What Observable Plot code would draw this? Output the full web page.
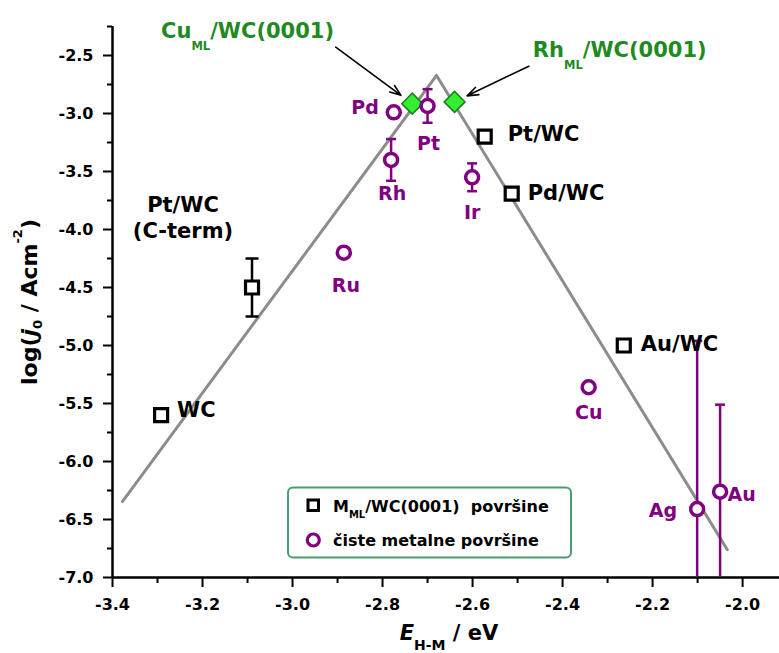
<!DOCTYPE html>
<html><head><meta charset="utf-8">
<script src="https://cdn.jsdelivr.net/npm/d3@7"></script>
<script src="https://cdn.jsdelivr.net/npm/@observablehq/plot@0.6"></script>
<style>
html,body{margin:0;padding:0;background:#fff;}
#chart{width:779px;height:653px;position:relative;overflow:hidden;background:#fff;}
</style></head><body><div id="chart"></div>
<script>
// ---------- DATA ----------
// M_ML/WC(0001) surfaces (black squares)
const mlNames  = ["WC", "Pt/WC (C-term)", "Pt/WC", "Pd/WC", "Au/WC"];
const mlE      = [-3.292, -3.090, -2.573, -2.513, -2.264];
const mlLogJ   = [-5.60, -4.50, -3.20, -3.69, -5.00];
const mlErr    = [0, 0.25, 0, 0, 0];

// pure metal surfaces (purple circles)
const metalNames = ["Pd", "Pt", "Rh", "Ir", "Ru", "Cu", "Ag", "Au"];
const metalE     = [-2.775, -2.700, -2.781, -2.601, -2.886, -2.342, -2.101, -2.050];
const metalLogJ  = [-2.99, -2.935, -3.40, -3.55, -4.20, -5.36, -6.41, -6.26];
const metalErr   = [0, 0.145, 0.18, 0.12, 0, 0, 1.45, 0.75];

// monolayer systems (green diamonds)
const monoNames = ["Cu_{ML}/WC(0001)", "Rh_{ML}/WC(0001)"];
const monoE     = [-2.734, -2.640];
const monoLogJ  = [-2.915, -2.90];
// annotation text anchors and arrow starts
const annoE      = [-3.100, -2.273];
const annoLogJ   = [-2.293, -2.453];
const arrowFromE    = [-2.904, -2.475];
const arrowFromLogJ = [-2.428, -2.592];

// volcano line
const volcanoE    = [-3.378, -2.680, -2.034];
const volcanoLogJ = [-6.345, -2.672, -6.760];

// axes
const xDomain = [-3.4, -1.918];
const yDomain = [-7.0, -2.25];
const xMajor = [-3.4, -3.2, -3.0, -2.8, -2.6, -2.4, -2.2, -2.0];
const xMinor = [-3.3, -3.1, -2.9, -2.7, -2.5, -2.3, -2.1];
const yMajor = [-7.0, -6.5, -6.0, -5.5, -5.0, -4.5, -4.0, -3.5, -3.0, -2.5];
const yMinor = [-6.75, -6.25, -5.75, -5.25, -4.75, -4.25, -3.75, -3.25, -2.75, -2.25];

const legendLabels = ["M_{ML}/WC(0001)  površine", "čiste metalne površine"];

// ---------- STYLE ----------
const FONT = "'DejaVu Sans', 'Liberation Sans', sans-serif";
const PURPLE = "#800080";
const GREEN_TXT = "#1f8a1f";
const labelPlace = {
  "WC": {dx: 16, dy: -6, anchor: "start"},
  "Pt/WC (C-term)": {dx: -69, dy: -71, anchor: "middle"},
  "Pt/WC": {dx: 23, dy: -4, anchor: "start"},
  "Pd/WC": {dx: 16, dy: -2, anchor: "start"},
  "Au/WC": {dx: 17, dy: -2.5, anchor: "start"},
  "Pd": {dx: -15, dy: -6, anchor: "end"},
  "Pt": {dx: 1, dy: 36, anchor: "middle"},
  "Rh": {dx: 1, dy: 33, anchor: "middle"},
  "Ir": {dx: 0, dy: 34, anchor: "middle"},
  "Ru": {dx: 2, dy: 32, anchor: "middle"},
  "Cu": {dx: 0, dy: 24, anchor: "middle"},
  "Ag": {dx: -20, dy: 0, anchor: "end"},
  "Au": {dx: 7.5, dy: 2, anchor: "start"}
};

// ---------- BUILD ----------
const mls = mlNames.map((name, i) => ({name, e: mlE[i], j: mlLogJ[i], err: mlErr[i]}));
const metals = metalNames.map((name, i) => ({name, e: metalE[i], j: metalLogJ[i], err: metalErr[i]}));
const monos = monoNames.map((name, i) => ({name, e: monoE[i], j: monoLogJ[i], ae: annoE[i], aj: annoLogJ[i], fe: arrowFromE[i], fj: arrowFromLogJ[i]}));
const volcano = volcanoE.map((e, i) => ({e, j: volcanoLogJ[i]}));

const squareSym = {draw(ctx, size) { const r = Math.sqrt(size / Math.PI); ctx.rect(-r, -r, 2 * r, 2 * r); }};
const diamondSym = {draw(ctx, size) { const r = Math.sqrt(size / Math.PI); ctx.moveTo(0, -r); ctx.lineTo(r, 0); ctx.lineTo(0, r); ctx.lineTo(-r, 0); ctx.closePath(); }};
const capSym = {draw(ctx, size) { const r = Math.sqrt(size / Math.PI); ctx.moveTo(-r, 0); ctx.lineTo(r, 0); }};

const errRules = (data, stroke) => Plot.ruleX(data.filter(d => d.err > 0), {
  x: "e", y1: d => d.j - d.err, y2: d => d.j + d.err, stroke, strokeWidth: 2.5, clip: true});
const errCaps = (data, stroke, r) => Plot.dot(
  data.filter(d => d.err > 0).flatMap(d => [{e: d.e, j: d.j + d.err}, {e: d.e, j: d.j - d.err}]),
  {x: "e", y: "j", symbol: capSym, r, stroke, fill: "none", strokeWidth: 2.5, clip: true});

const labelMarks = (data, fill, fontSize) => data.map(d => {
  const p = labelPlace[d.name];
  return Plot.text([d], {x: "e", y: "j", text: dd => dd.name.replace(" (", "\n("),
    dx: p.dx, dy: p.dy, textAnchor: p.anchor, fill, fontSize, fontWeight: "bold",
    fontFamily: FONT, lineHeight: 1.24});
});

const chart = Plot.plot({
  width: 779, height: 653,
  marginLeft: 112, marginRight: 0, marginTop: 26, marginBottom: 76,
  x: {domain: xDomain, label: null},
  y: {domain: yDomain, label: null},
  style: {fontFamily: FONT, fontWeight: "bold", fontSize: "16px", color: "black", background: "white", overflow: "visible"},
  marks: [
    Plot.axisX(xMajor, {tickSize: 10, tickPadding: 11, strokeWidth: 2, tickFormat: d => d.toFixed(1), label: null, fontSize: 16, fontWeight: "bold", fontFamily: FONT}),
    Plot.axisX(xMinor, {tickSize: 6, strokeWidth: 2, tickFormat: () => "", label: null}),
    Plot.axisY(yMajor, {tickSize: 9, tickPadding: 10, strokeWidth: 2, tickFormat: d => d.toFixed(1), label: null, fontSize: 16, fontWeight: "bold", fontFamily: FONT}),
    Plot.axisY(yMinor, {tickSize: 5, strokeWidth: 2, tickFormat: () => "", label: null}),
    Plot.ruleX([xDomain[0]], {strokeWidth: 2.5}),
    Plot.ruleY([yDomain[0]], {strokeWidth: 2.5}),
    Plot.line(volcano, {x: "e", y: "j", stroke: "#8c8c8c", strokeWidth: 3}),
    errRules(mls, "black"),
    errCaps(mls, "black", 6.5),
    errRules(metals, PURPLE),
    errCaps(metals, PURPLE, 5),
    Plot.dot(mls, {x: "e", y: "j", symbol: squareSym, r: 6.5, stroke: "black", strokeWidth: 3.2, fill: "white"}),
    Plot.dot(monos, {x: "e", y: "j", symbol: diamondSym, r: 10.5, fill: "#33ee33", stroke: "#1f7f1f", strokeWidth: 1.5}),
    Plot.dot(metals, {x: "e", y: "j", r: 6.5, stroke: PURPLE, strokeWidth: 3.5, fill: "white"}),
    ...labelMarks(mls, "black", 21),
    ...labelMarks(metals, PURPLE, 19),
    Plot.arrow(monos, {x1: "fe", y1: "fj", x2: "e", y2: "j", insetEnd: 14, stroke: "black", strokeWidth: 1.6, headLength: 11, headAngle: 40}),
    Plot.text(monos, {x: "ae", y: "aj", text: "name", fill: GREEN_TXT, fontSize: 21, fontWeight: "bold", fontFamily: FONT, textAnchor: "middle"})
  ]
});
document.getElementById("chart").appendChild(chart);

// ---------- rich text (sub/superscripts, italics) ----------
const SVGNS = "http://www.w3.org/2000/svg";
function segments(s) {
  const re = /_\{([^}]*)\}|\^\{([^}]*)\}|\*([^*]*)\*/g;
  const out = []; let last = 0, m;
  while ((m = re.exec(s))) {
    if (m.index > last) out.push({t: s.slice(last, m.index), k: "n"});
    if (m[1] != null) out.push({t: m[1], k: "sub"});
    else if (m[2] != null) out.push({t: m[2], k: "sup"});
    else out.push({t: m[3], k: "it"});
    last = re.lastIndex;
  }
  if (last < s.length) out.push({t: s.slice(last), k: "n"});
  return out;
}
function applyRich(el, s, o) {
  el.textContent = "";
  let shift = 0;
  for (const seg of segments(s)) {
    const t = document.createElementNS(SVGNS, "tspan");
    let target = 0;
    if (seg.k === "sub") { target = o.subShift; t.setAttribute("font-size", o.subSize); }
    else if (seg.k === "sup") { target = -o.supShift; t.setAttribute("font-size", o.supSize); }
    else if (seg.k === "it") { t.setAttribute("font-style", "italic"); }
    const dy = target - shift;
    if (dy) t.setAttribute("dy", dy);
    shift = target;
    t.textContent = seg.t;
    el.appendChild(t);
  }
}
// Plot-drawn annotation texts
chart.querySelectorAll("text").forEach(el => {
  if (el.children.length === 0 && /_\{|\^\{/.test(el.textContent)) {
    applyRich(el, el.textContent, {subSize: 11.5, subShift: 12, supSize: 11.5, supShift: 10});
  }
});

const svg = d3.select(chart);
// axis titles
const yl = svg.append("text").attr("transform", "translate(37,302) rotate(-90)")
  .attr("text-anchor", "middle").attr("font-size", 22).attr("font-weight", "bold")
  .attr("font-family", FONT).attr("fill", "black");
applyRich(yl.node(), "log(*j*_{0} / Acm^{-2})", {subSize: 13, subShift: 5, supSize: 13, supShift: 15});
const xl = svg.append("text").attr("x", 449).attr("y", 639.5)
  .attr("text-anchor", "middle").attr("font-size", 21).attr("font-weight", "bold")
  .attr("font-family", FONT).attr("fill", "black");
applyRich(xl.node(), "*E*_{H-M} / eV", {subSize: 14, subShift: 10.5, supSize: 14, supShift: 10});

// legend box
const lg = svg.append("g").attr("font-family", FONT).attr("font-weight", "bold").attr("text-anchor", "start");
lg.append("rect").attr("x", 288).attr("y", 487.5).attr("width", 283).attr("height", 70)
  .attr("rx", 5).attr("fill", "white").attr("stroke", "#4a9d6e").attr("stroke-width", 2);
lg.append("rect").attr("x", 308).attr("y", 500).attr("width", 10.5).attr("height", 10.5)
  .attr("fill", "white").attr("stroke", "black").attr("stroke-width", 3);
lg.append("circle").attr("cx", 313.3).attr("cy", 540).attr("r", 6)
  .attr("fill", "white").attr("stroke", PURPLE).attr("stroke-width", 3.2);
const t1 = lg.append("text").attr("x", 333).attr("y", 511.5).attr("font-size", 16)
  .attr("text-anchor", "start").attr("fill", "black");
applyRich(t1.node(), legendLabels[0], {subSize: 10, subShift: 6, supSize: 10, supShift: 6});
lg.append("text").attr("x", 333).attr("y", 546).attr("font-size", 16)
  .attr("text-anchor", "start").attr("fill", "black").text(legendLabels[1]);
</script>
</body></html>
